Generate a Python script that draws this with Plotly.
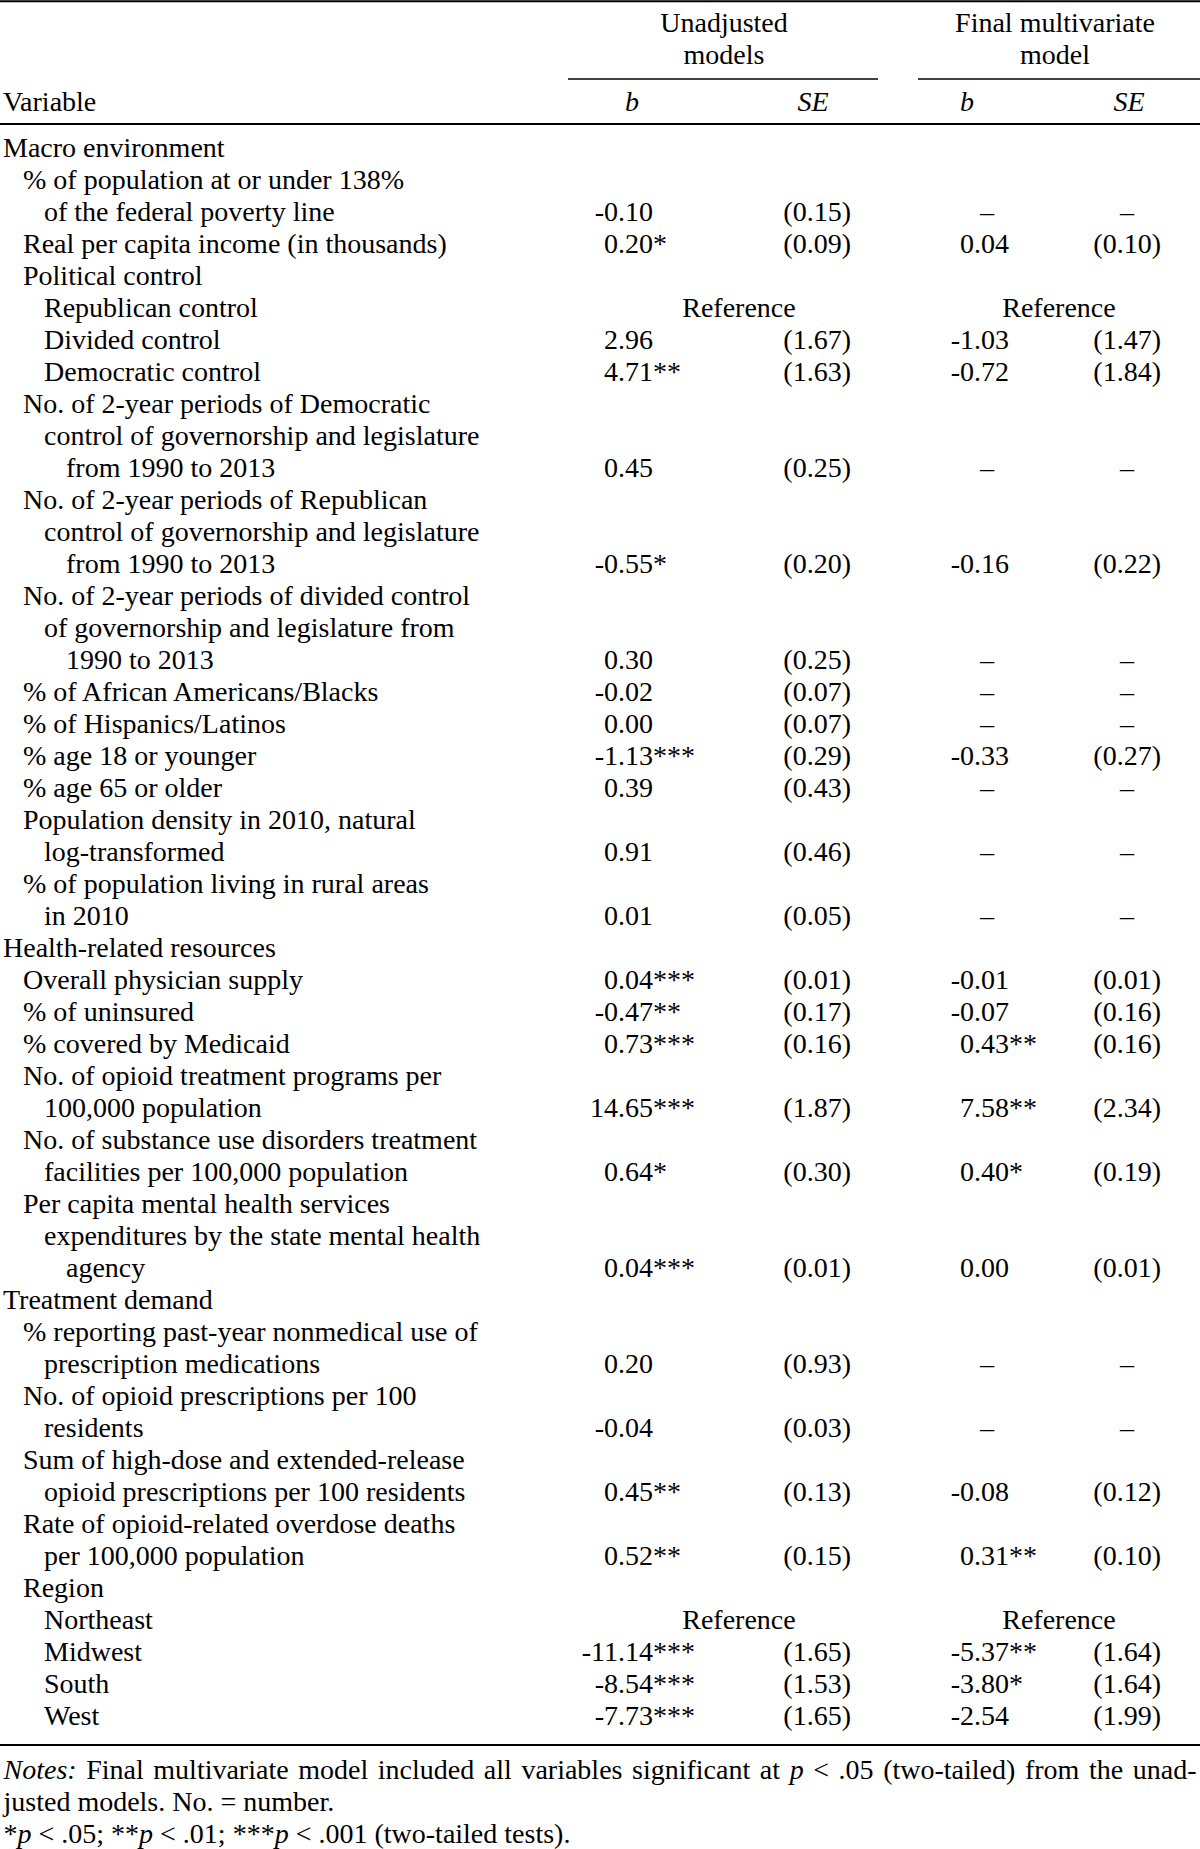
import re
import plotly.graph_objects as go

# ---------------- data ----------------
labels = [
    "Macro environment",
    "% of population at or under 138%",
    "of the federal poverty line",
    "Real per capita income (in thousands)",
    "Political control",
    "Republican control",
    "Divided control",
    "Democratic control",
    "No. of 2-year periods of Democratic",
    "control of governorship and legislature",
    "from 1990 to 2013",
    "No. of 2-year periods of Republican",
    "control of governorship and legislature",
    "from 1990 to 2013",
    "No. of 2-year periods of divided control",
    "of governorship and legislature from",
    "1990 to 2013",
    "% of African Americans/Blacks",
    "% of Hispanics/Latinos",
    "% age 18 or younger",
    "% age 65 or older",
    "Population density in 2010, natural",
    "log-transformed",
    "% of population living in rural areas",
    "in 2010",
    "Health-related resources",
    "Overall physician supply",
    "% of uninsured",
    "% covered by Medicaid",
    "No. of opioid treatment programs per",
    "100,000 population",
    "No. of substance use disorders treatment",
    "facilities per 100,000 population",
    "Per capita mental health services",
    "expenditures by the state mental health",
    "agency",
    "Treatment demand",
    "% reporting past-year nonmedical use of",
    "prescription medications",
    "No. of opioid prescriptions per 100",
    "residents",
    "Sum of high-dose and extended-release",
    "opioid prescriptions per 100 residents",
    "Rate of opioid-related overdose deaths",
    "per 100,000 population",
    "Region",
    "Northeast",
    "Midwest",
    "South",
    "West",
]
levels = [0, 1, 2, 1, 1, 2, 2, 2, 1, 2, 3, 1, 2, 3, 1, 2, 3, 1, 1, 1, 1, 1, 2, 1, 2,
          0, 1, 1, 1, 1, 2, 1, 2, 1, 2, 3,
          0, 1, 2, 1, 2, 1, 2, 1, 2, 1, 2, 2, 2, 2]

N = None
unadj_b = [N, N, "-0.10", "0.20*", N, "Reference", "2.96", "4.71**", N, N, "0.45", N, N, "-0.55*",
           N, N, "0.30", "-0.02", "0.00", "-1.13***", "0.39", N, "0.91", N, "0.01",
           N, "0.04***", "-0.47**", "0.73***", N, "14.65***", N, "0.64*", N, N, "0.04***",
           N, N, "0.20", N, "-0.04", N, "0.45**", N, "0.52**", N, "Reference",
           "-11.14***", "-8.54***", "-7.73***"]
unadj_se = [N, N, "(0.15)", "(0.09)", N, N, "(1.67)", "(1.63)", N, N, "(0.25)", N, N, "(0.20)",
            N, N, "(0.25)", "(0.07)", "(0.07)", "(0.29)", "(0.43)", N, "(0.46)", N, "(0.05)",
            N, "(0.01)", "(0.17)", "(0.16)", N, "(1.87)", N, "(0.30)", N, N, "(0.01)",
            N, N, "(0.93)", N, "(0.03)", N, "(0.13)", N, "(0.15)", N, N,
            "(1.65)", "(1.53)", "(1.65)"]
final_b = [N, N, "–", "0.04", N, "Reference", "-1.03", "-0.72", N, N, "–", N, N, "-0.16",
           N, N, "–", "–", "–", "-0.33", "–", N, "–", N, "–",
           N, "-0.01", "-0.07", "0.43**", N, "7.58**", N, "0.40*", N, N, "0.00",
           N, N, "–", N, "–", N, "-0.08", N, "0.31**", N, "Reference",
           "-5.37**", "-3.80*", "-2.54"]
final_se = [N, N, "–", "(0.10)", N, N, "(1.47)", "(1.84)", N, N, "–", N, N, "(0.22)",
            N, N, "–", "–", "–", "(0.27)", "–", N, "–", N, "–",
            N, "(0.01)", "(0.16)", "(0.16)", N, "(2.34)", N, "(0.19)", N, N, "(0.01)",
            N, N, "–", N, "–", N, "(0.12)", N, "(0.10)", N, N,
            "(1.64)", "(1.64)", "(1.99)"]

group_titles = [["Unadjusted", "models"], ["Final multivariate", "model"]]
sub_headers = ["<i>b</i>", "<i>SE</i>", "<i>b</i>", "<i>SE</i>"]
stub_header = "Variable"
notes = [
    "<i>Notes:</i> Final multivariate model included all variables significant at <i>p</i> &lt; .05 (two-tailed) from the unad-",
    "justed models. No. = number.",
    "*<i>p</i> &lt; .05; **<i>p</i> &lt; .01; ***<i>p</i> &lt; .001 (two-tailed tests).",
]
justified_notes = [True, False, False]

# ---------------- layout / style ----------------
W, H = 1200, 1849
FONT = "Liberation Serif, Times New Roman, serif"
FS = 28
ROW0_PX, PITCH = 147.3, 32.0
TEXT_DY = 3.0  # vertical nudge of text relative to rules (px)


def row_of(px):
    return (px - ROW0_PX) / PITCH


LEVEL_X = [3, 23, 44, 66]
UB_DEC, USE_RIGHT = 618, 851
FB_DEC, FSE_RIGHT = 974, 1161
FB_CENTER, FSE_CENTER = 987, 1127
REF_CENTER = [739, 1059]
GROUP_CENTER = [724, 1055]
GROUP_LINE = [(568, 878), (918, 1200)]
SUB_X = [632, 813, 967, 1129]
NOTE_LEFT, NOTE_RIGHT = 3.5, 1196.5

# Times/Liberation Serif advance widths (1/1000 em) for justification of the note line
REG = {' ': 250, 'a': 444, 'b': 500, 'c': 444, 'd': 500, 'e': 444, 'f': 333, 'g': 500, 'h': 500,
       'i': 278, 'j': 278, 'k': 500, 'l': 278, 'm': 778, 'n': 500, 'o': 500, 'p': 500, 'q': 500,
       'r': 333, 's': 389, 't': 278, 'u': 500, 'v': 500, 'w': 722, 'x': 500, 'y': 500, 'z': 444,
       'F': 556, 'N': 722, '.': 250, ',': 250, ':': 278, '(': 333, ')': 333, '-': 333, '<': 564,
       '=': 564, '*': 500}
ITA = {'N': 667, 'o': 500, 't': 278, 'e': 444, 's': 389, ':': 333, 'p': 500}

font = dict(family=FONT, size=FS, color="black")
fig = go.Figure()
dy = TEXT_DY / PITCH


def add_text(xs, ys, texts, pos):
    fig.add_trace(go.Scatter(x=list(xs), y=[y + dy for y in ys], text=list(texts), mode="text",
                             textposition=pos, textfont=font, cliponaxis=False,
                             hoverinfo="skip", showlegend=False))


def word_width(w):
    total = 0.0
    for part in re.split(r"(<i>.*?</i>)", w):
        if not part:
            continue
        if part.startswith("<i>"):
            s, table = part[3:-4], ITA
        else:
            s, table = part, REG
        s = s.replace("&lt;", "<")
        for ch in s:
            total += table.get(ch, REG.get(ch, 500 if ch.isdigit() else 450))
    return total / 1000.0 * FS


rows = list(range(len(labels)))

# stub labels
add_text([LEVEL_X[l] for l in levels], rows, labels, "middle right")


def add_b_column(values, dec_x, dash_x, ref_x):
    ip_x, ip_y, ip_t, fp_x, fp_y, fp_t = [], [], [], [], [], []
    c_x, c_y, c_t = [], [], []
    for i, v in enumerate(values):
        if v is None:
            continue
        if v == "Reference":
            c_x.append(ref_x); c_y.append(i); c_t.append(v)
        elif v == "–":
            c_x.append(dash_x); c_y.append(i); c_t.append(v)
        else:
            a, b = v.split(".", 1)
            ip_x.append(dec_x); ip_y.append(i); ip_t.append(a)
            fp_x.append(dec_x); fp_y.append(i); fp_t.append("." + b)
    add_text(ip_x, ip_y, ip_t, "middle left")
    add_text(fp_x, fp_y, fp_t, "middle right")
    add_text(c_x, c_y, c_t, "middle center")


def add_se_column(values, right_x, dash_x):
    r_x, r_y, r_t, c_x, c_y, c_t = [], [], [], [], [], []
    for i, v in enumerate(values):
        if v is None:
            continue
        if v == "–":
            c_x.append(dash_x); c_y.append(i); c_t.append(v)
        else:
            r_x.append(right_x); r_y.append(i); r_t.append(v)
    add_text(r_x, r_y, r_t, "middle left")
    add_text(c_x, c_y, c_t, "middle center")


add_b_column(unadj_b, UB_DEC, UB_DEC + 13, REF_CENTER[0])
add_se_column(unadj_se, USE_RIGHT, USE_RIGHT - 34)
add_b_column(final_b, FB_DEC, FB_CENTER, REF_CENTER[1])
add_se_column(final_se, FSE_RIGHT, FSE_CENTER)

# header
hx, hy, ht = [], [], []
for g, lines in enumerate(group_titles):
    for k, t in enumerate(lines):
        hx.append(GROUP_CENTER[g]); hy.append(row_of(22 + 32 * k)); ht.append(t)
for x, t in zip(SUB_X, sub_headers):
    hx.append(x); hy.append(row_of(101)); ht.append(t)
add_text(hx, hy, ht, "middle center")
add_text([3], [row_of(101)], [stub_header], "middle right")

# notes (first line justified word by word)
nx, ny, nt = [], [], []
for k, (line, just) in enumerate(zip(notes, justified_notes)):
    y = row_of(1769 + 32 * k)
    if just:
        words = line.split(" ")
        widths = [word_width(w) for w in words]
        gap = (NOTE_RIGHT - NOTE_LEFT - sum(widths)) / (len(words) - 1)
        x = NOTE_LEFT
        for w, wd in zip(words, widths):
            nx.append(x); ny.append(y); nt.append(w)
            x += wd + gap
    else:
        nx.append(NOTE_LEFT); ny.append(y); nt.append(line)
add_text(nx, ny, nt, "middle right")

# rules
shapes = []
for px, w in [(1.2, 2), (124, 2), (1745, 2)]:
    shapes.append(dict(type="line", xref="paper", yref="y", x0=0, x1=1,
                       y0=row_of(px), y1=row_of(px), line=dict(color="black", width=w)))
for x0, x1 in GROUP_LINE:
    shapes.append(dict(type="line", xref="x", yref="y", x0=x0, x1=x1,
                       y0=row_of(79), y1=row_of(79), line=dict(color="black", width=1.5)))

fig.update_layout(
    width=W, height=H, margin=dict(l=0, r=0, t=0, b=0),
    paper_bgcolor="white", plot_bgcolor="white",
    xaxis=dict(range=[0, W], visible=False, fixedrange=True),
    yaxis=dict(range=[row_of(H), row_of(0)], visible=False, fixedrange=True),
    shapes=shapes, showlegend=False, hovermode=False,
)

fig.write_html(
    "out.html",
    config={"displayModeBar": False, "staticPlot": True},
    post_script="document.body.style.margin='0';document.body.style.overflow='hidden';",
)
